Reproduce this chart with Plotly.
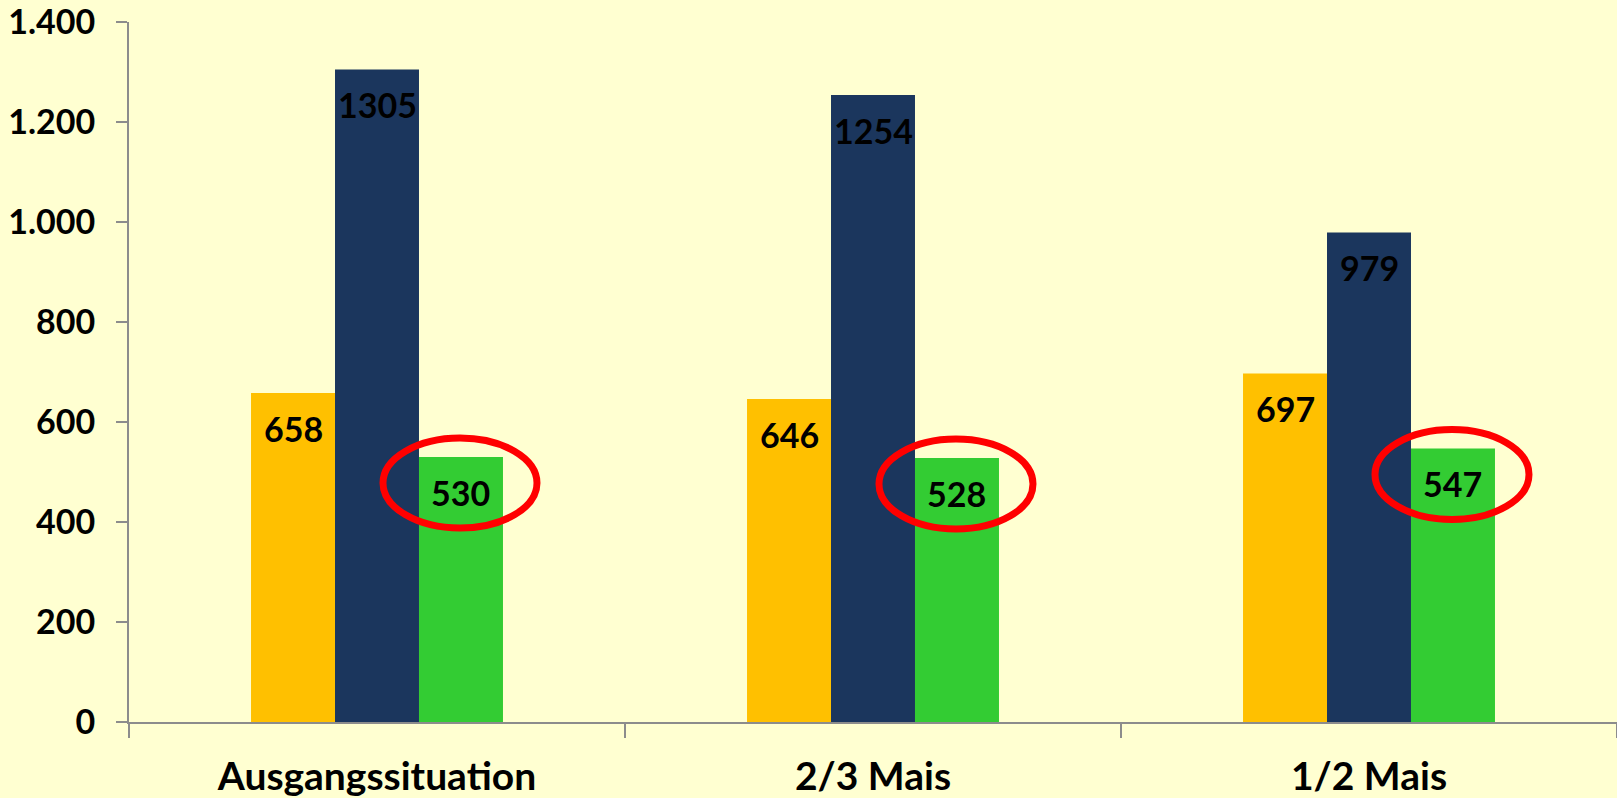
import plotly.graph_objects as go

categories = ["Ausgangssituation", "2/3 Mais", "1/2 Mais"]
series_names = ["Serie 1", "Serie 2", "Serie 3"]
values_orange = [658, 646, 697]
values_navy = [1305, 1254, 979]
values_green = [530, 528, 547]
y_tickvals = [0, 200, 400, 600, 800, 1000, 1200, 1400]

colors = ["#FFC000", "#1B365D", "#33CC33"]
series = [values_orange, values_navy, values_green]
BG = "#FFFFD1"
AXIS = "#8C8C8C"
FONT = "Lato"
BARGAP = 0.492
bar_w = (1 - BARGAP) / 3

fig = go.Figure()
for name, vals, col in zip(series_names, series, colors):
    fig.add_trace(go.Bar(x=categories, y=vals, name=name, marker_color=col,
                         marker_line_width=0, showlegend=False, hoverinfo="x+y"))

annotations = []
for i, vals in enumerate(series):
    for j, v in enumerate(vals):
        annotations.append(dict(
            x=j + (i - 1) * bar_w, y=v, xref="x", yref="y",
            text=str(v), showarrow=False, yshift=-35, yanchor="middle",
            font=dict(family=FONT, size=34, color="black", weight="bold")))

shapes = []
for j, v in enumerate(values_green):
    cx = j + bar_w - 1 / 496.0
    half_w = 77 / 496.0
    shapes.append(dict(
        type="circle", xref="x", yref="y", ysizemode="pixel", yanchor=v,
        x0=cx - half_w, x1=cx + half_w, y0=-26 - 45, y1=-26 + 45,
        line=dict(color="#FF0000", width=7), fillcolor="rgba(0,0,0,0)", layer="above"))

fig.update_layout(
    width=1617, height=798,
    paper_bgcolor=BG, plot_bgcolor=BG,
    margin=dict(l=129, r=0, t=22, b=76),
    barmode="group", bargap=BARGAP, bargroupgap=0,
    separators=",.",
    annotations=annotations, shapes=shapes,
    font=dict(family=FONT, color="black"),
)
fig.update_xaxes(
    type="category", showline=True, linecolor=AXIS, linewidth=2,
    ticks="outside", tickson="boundaries", ticklen=14, tickcolor=AXIS, tickwidth=2,
    showgrid=False, zeroline=False, automargin=False,
    tickfont=dict(family=FONT, size=39, color="black", weight="bold"),
    ticklabelstandoff=19, ticklabeloverflow="allow",
)
fig.update_yaxes(
    range=[0, 1400], tickvals=y_tickvals, tickformat=",d",
    showline=True, linecolor=AXIS, linewidth=2,
    ticks="outside", ticklen=11, tickcolor=AXIS, tickwidth=2,
    showgrid=False, zeroline=False, automargin=False,
    tickfont=dict(family=FONT, size=34, color="black", weight="bold"),
    ticklabelstandoff=14, ticklabeloverflow="allow",
)

fig.write_html(
    "out.html",
    config={"displayModeBar": False},
    post_script="document.body.style.margin='0';document.body.style.overflow='hidden';"
                "document.body.style.background='" + BG + "';",
)
